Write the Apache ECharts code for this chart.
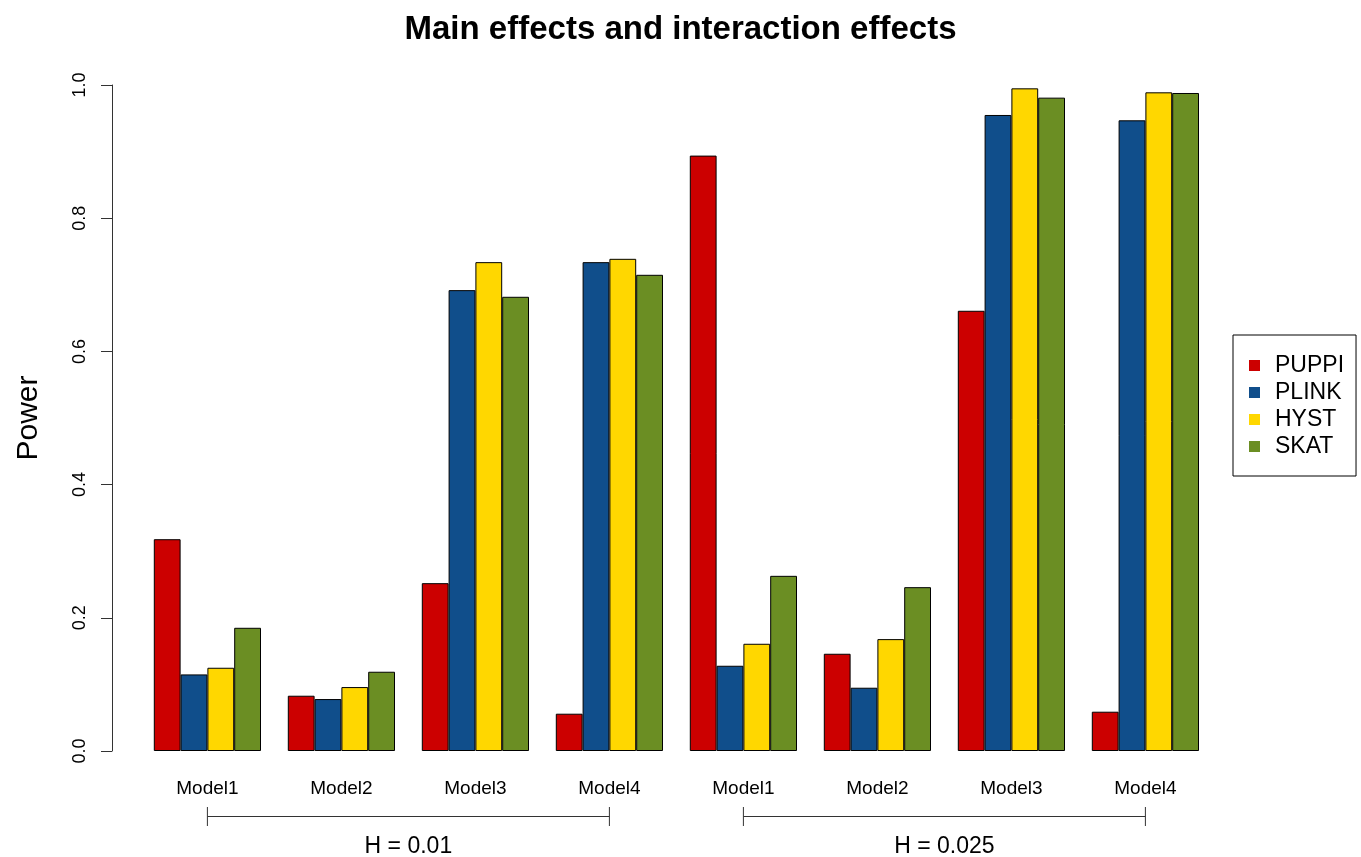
<!DOCTYPE html>
<html>
<head>
<meta charset="utf-8">
<script src="https://cdn.jsdelivr.net/npm/echarts@6/dist/echarts.min.js"></script>
<style>
html,body{margin:0;padding:0;background:#fff;}
#chart{width:1361px;height:857px;}
</style>
</head>
<body>
<div id="chart"></div>
<script>
const categories = ['Model1','Model2','Model3','Model4','Model1','Model2','Model3','Model4'];
const seriesNames = ['PUPPI','PLINK','HYST','SKAT'];
const puppi = [0.318, 0.083, 0.252, 0.056, 0.894, 0.146, 0.661, 0.059];
const plink = [0.115, 0.078, 0.692, 0.734, 0.128, 0.095, 0.955, 0.947];
const hyst  = [0.125, 0.096, 0.734, 0.739, 0.161, 0.168, 0.995, 0.989];
const skat  = [0.185, 0.119, 0.682, 0.715, 0.263, 0.246, 0.981, 0.988];
const groupLabels = ['H = 0.01', 'H = 0.025'];
const groupSpans = [[0, 3], [4, 7]];
const colors = ['#CC0000', '#104E8B', '#FFD700', '#6B8E23'];
const yTicks = [0, 0.2, 0.4, 0.6, 0.8, 1.0];

const FONT = 'Liberation Sans, Arial, Helvetica, sans-serif';
const values = [puppi, plink, hyst, skat];

const chart = echarts.init(document.getElementById('chart'), null, {renderer: 'canvas'});
const option = {
  backgroundColor: '#ffffff',
  animation: false,
  textStyle: {fontFamily: FONT},
  title: {
    text: 'Main effects and interaction effects',
    left: 'center',
    top: 8,
    textStyle: {fontSize: 33, fontWeight: 'bold', color: '#000', fontFamily: FONT}
  },
  legend: {
    orient: 'vertical',
    left: 1233,
    top: 335,
    data: seriesNames,
    icon: 'rect',
    itemWidth: 11,
    itemHeight: 11,
    itemGap: 4,
    itemStyle: {borderWidth: 0},
    padding: [19, 12, 18, 16],
    borderColor: '#000',
    borderWidth: 1,
    textStyle: {fontSize: 23, color: '#000', fontFamily: FONT, lineHeight: 23, padding: [0, 0, 0, 10]}
  },
  grid: {left: 140.4, right: 148.6, top: 85, bottom: 106, containLabel: false, outerBoundsMode: 'none'},
  xAxis: {
    type: 'category',
    data: categories,
    axisLine: {show: false},
    axisTick: {show: false},
    axisLabel: {fontSize: 19, color: '#000', margin: 28, fontFamily: FONT, interval: 0}
  },
  yAxis: {
    type: 'value',
    min: 0, max: 1, interval: 0.2,
    offset: 28.4,
    name: 'Power',
    nameLocation: 'middle',
    nameRotate: 90,
    nameGap: 68,
    nameTextStyle: {fontSize: 30, color: '#000', fontFamily: FONT},
    axisLine: {show: true, lineStyle: {color: '#333', width: 1}},
    axisTick: {show: true, length: 11, lineStyle: {color: '#333', width: 1}},
    axisLabel: {rotate: 90, fontSize: 18, color: '#000', margin: 23, fontFamily: FONT,
      formatter: v => v.toFixed(1)},
    splitLine: {show: false}
  },
  series: seriesNames.map((n, i) => ({
    name: n,
    type: 'bar',
    data: values[i],
    barGap: '0%',
    barCategoryGap: '20%',
    itemStyle: {color: colors[i], borderColor: '#000', borderWidth: 1}
  }))
};
chart.setOption(option);

function drawGroups() {
  const y = 816.5, tick = 9.5;
  const els = [];
  groupSpans.forEach((s, k) => {
    const x0 = chart.convertToPixel({xAxisIndex: 0}, s[0]);
    const x1 = chart.convertToPixel({xAxisIndex: 0}, s[1]);
    const ls = {stroke: '#333', lineWidth: 1};
    els.push({type: 'line', shape: {x1: x0, y1: y, x2: x1, y2: y}, style: ls, silent: true});
    els.push({type: 'line', shape: {x1: x0, y1: y - tick, x2: x0, y2: y + tick}, style: ls, silent: true});
    els.push({type: 'line', shape: {x1: x1, y1: y - tick, x2: x1, y2: y + tick}, style: ls, silent: true});
    els.push({type: 'text', x: (x0 + x1) / 2, y: 847, silent: true,
      style: {text: groupLabels[k], fontSize: 23, fill: '#000', fontFamily: FONT,
        align: 'center', verticalAlign: 'middle'}});
  });
  chart.setOption({graphic: {elements: els}});
}
drawGroups();
</script>
</body>
</html>
